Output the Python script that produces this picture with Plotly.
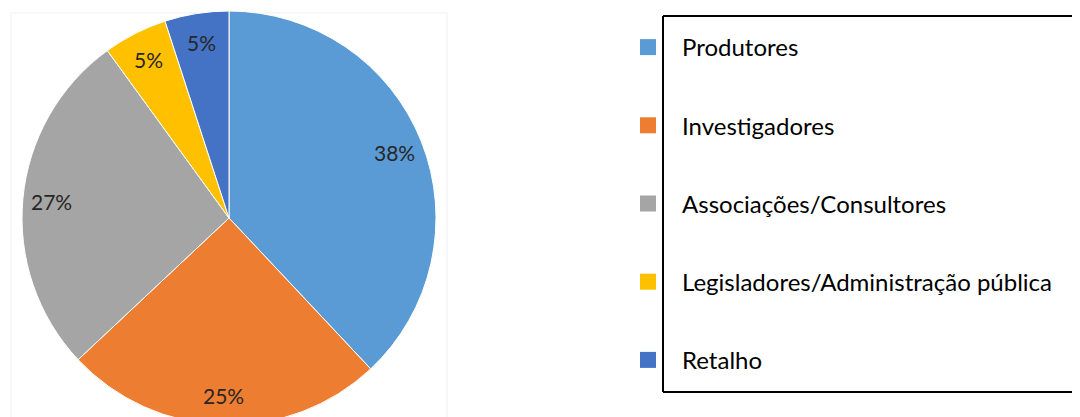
import math
import plotly.graph_objects as go

categories = ["Produtores", "Investigadores", "Associações/Consultores",
              "Legisladores/Administração pública", "Retalho"]
values = [38, 25, 27, 5, 5]
colors = ["#5B9BD5", "#ED7D31", "#A5A5A5", "#FFC000", "#4472C4"]

W, H = 1080, 417
FONT = "Lato, 'Open Sans', sans-serif"

# pie geometry (figure pixels)
R = 207
CX = 221
CY = H - R  # centre from top

fig = go.Figure()
fig.add_trace(go.Pie(
    labels=categories, values=values, sort=False, direction="clockwise",
    rotation=0, marker=dict(colors=colors, line=dict(color="white", width=1)),
    textinfo="none", hoverinfo="label+percent", showlegend=False,
    domain=dict(x=[(CX - R) / W, (CX + R) / W], y=[0, 2 * R / H]),
))

# legend entries (one per category, grouped for spacing)
for cat, col in zip(categories, colors):
    fig.add_trace(go.Scatter(
        x=[None], y=[None], mode="markers", name=cat, legendgroup=cat,
        marker=dict(symbol="square", size=16, color=col),
        showlegend=True, hoverinfo="skip",
    ))

# percentage labels placed along each slice's mid-angle
total = sum(values)
annotations = []
cum = 0
for v in values:
    mid = (cum + v / 2) / total
    cum += v
    th = 2 * math.pi * mid
    rl = 0.86 * R
    px = CX + rl * math.sin(th)
    py = CY - rl * math.cos(th)
    annotations.append(dict(
        x=px / W, y=1 - py / H, xref="paper", yref="paper",
        text=f"{round(100 * v / total)}%", showarrow=False,
        font=dict(family=FONT, size=21, color="#262626"),
        xanchor="center", yanchor="middle",
    ))

# legend frame: open on the right (runs off the edge)
bx0, bx1, by_top, by_bot = 655 / W, 0.995, 1 - 8 / H, 1 - 384 / H
frame = dict(color="#000000", width=2)
shapes = [
    dict(type="rect", xref="paper", yref="paper",
         x0=3 / W, x1=439 / W, y0=-0.05, y1=1 - 5 / H,
         line=dict(color="#EFEFEF", width=1), layer="below"),
    dict(type="line", xref="paper", yref="paper", x0=bx0, x1=bx1,
         y0=by_top, y1=by_top, line=frame),
    dict(type="line", xref="paper", yref="paper", x0=bx0, x1=bx1,
         y0=by_bot, y1=by_bot, line=frame),
    dict(type="line", xref="paper", yref="paper", x0=bx0, x1=bx0,
         y0=by_bot, y1=by_top, line=frame),
]

fig.update_layout(
    width=W, height=H,
    margin=dict(l=0, r=0, t=0, b=0),
    paper_bgcolor="white", plot_bgcolor="white",
    xaxis=dict(visible=False), yaxis=dict(visible=False),
    showlegend=True,
    legend=dict(
        x=(640 - 34) / W, xanchor="left", y=1 - 17 / H, yanchor="top",
        font=dict(family=FONT, size=24, color="#000000"),
        tracegroupgap=44, itemwidth=58, bgcolor="rgba(0,0,0,0)",
        traceorder="grouped",
    ),
    annotations=annotations,
    shapes=shapes,
)

fig.write_html("out.html")
